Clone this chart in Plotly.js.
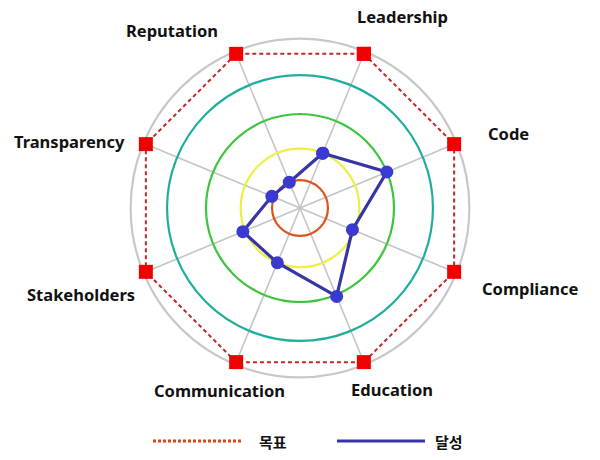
<!DOCTYPE html>
<html><head><meta charset="utf-8">
<script src="https://cdn.plot.ly/plotly-3.0.1.min.js"></script>
<style>html,body{margin:0;padding:0;background:#fff}#chart{width:600px;height:460px}</style>
</head><body><div id="chart"></div>
<script>
// ---- data ----
const categories = ['Leadership','Code','Compliance','Education','Communication','Stakeholders','Transparency','Reputation'];
const targetValues = [98.5,98.5,98.5,98.5,98.5,98.5,98.5,98.5];
const achievedValues = [35,55.5,33.5,56.5,35,36.5,18,16.5];
const seriesNames = ['목표','달성'];
const levelValues = [16.5,35,55.5,78.5];
const radialMax = 100;

// ---- styles / layout ----
const levelColors = ['#d9541e','#eeee44','#3ec43e','#1fae9c'];
const labelPos = {
  Leadership:[402,16], Code:[508,133], Compliance:[530,288], Education:[392,389],
  Communication:[220,390], Stakeholders:[81,294], Transparency:[69,141], Reputation:[172,31]
};
const W = 600, H = 460;
const domain = {x:[0.2177,0.7823], y:[0.1796,0.9161]};
const closeLoop = a => a.concat([a[0]]);

const angCat = {type:'category', categoryorder:'array', categoryarray:categories,
  rotation:67.5, direction:'clockwise', showticklabels:false, ticks:'', layer:'below traces'};
const radHidden = {range:[0,radialMax], showline:false, showticklabels:false, ticks:'', showgrid:false, layer:'below traces'};

const traces = [];
const layout = {
  width:W, height:H, margin:{l:0,r:0,t:0,b:0},
  paper_bgcolor:'#ffffff', showlegend:false,
  font:{family:'Noto Sans, Noto Sans CJK KR, sans-serif', color:'#111'},
  annotations:[], shapes:[]
};

// polar 1: spokes, outer ring, target series
layout.polar = {
  domain, bgcolor:'#ffffff', hole:0,
  angularaxis:Object.assign({}, angCat, {showgrid:true, gridcolor:'#c4c4c4', gridwidth:1.6,
    showline:true, linecolor:'#c8c8c8', linewidth:2.2}),
  radialaxis:radHidden
};
traces.push({
  type:'scatterpolar', subplot:'polar', name:seriesNames[0],
  theta:closeLoop(categories), r:closeLoop(targetValues),
  mode:'lines+markers', cliponaxis:false,
  line:{color:'#c0282a', width:2, dash:'4px,3px'},
  marker:{symbol:'square', size:14, color:'#f20000'},
  hoverinfo:'skip'
});

// polars 2..5: coloured level rings (radial gridlines)
levelValues.forEach((lv,i)=>{
  const key = 'polar' + (i+2);
  layout[key] = {
    domain, bgcolor:'rgba(0,0,0,0)', hole:0,
    angularaxis:{showgrid:false, showline:false, showticklabels:false, ticks:'', rotation:67.5, direction:'clockwise'},
    radialaxis:{range:[0,radialMax], tickvals:[lv], showgrid:true, gridcolor:levelColors[i], gridwidth:2.2,
      showline:false, showticklabels:false, ticks:''}
  };
  traces.push({type:'scatterpolar', subplot:key, r:[lv], theta:[0], mode:'lines',
    line:{color:'rgba(0,0,0,0)'}, hoverinfo:'skip'});
});

// polar 6: achieved series on top
layout.polar6 = {
  domain, bgcolor:'rgba(0,0,0,0)', hole:0,
  angularaxis:Object.assign({}, angCat, {showgrid:false, showline:false}),
  radialaxis:radHidden
};
traces.push({
  type:'scatterpolar', subplot:'polar6', name:seriesNames[1],
  theta:closeLoop(categories), r:closeLoop(achievedValues),
  mode:'lines+markers', cliponaxis:false,
  line:{color:'#3535a8', width:3.2},
  marker:{symbol:'circle', size:13, color:'#3a3ad0'},
  hoverinfo:'skip'
});

// category labels
categories.forEach(c=>{
  const p = labelPos[c];
  layout.annotations.push({text:c, x:p[0]/W, y:1-p[1]/H, xref:'paper', yref:'paper',
    xanchor:'center', yanchor:'middle', showarrow:false,
    font:{family:'Noto Sans, sans-serif', size:16.5, color:'#111', weight:'bold'}});
});

// legend (drawn)
const legY = 1 - 441/H;
layout.shapes.push({type:'line', xref:'paper', yref:'paper', x0:153/W, x1:241/W, y0:legY, y1:legY,
  line:{color:'#d4481c', width:3, dash:'3px,2px'}});
layout.shapes.push({type:'line', xref:'paper', yref:'paper', x0:337/W, x1:425/W, y0:legY, y1:legY,
  line:{color:'#3535a8', width:3}});
[[seriesNames[0],273],[seriesNames[1],449]].forEach(([t,x])=>{
  layout.annotations.push({text:t, x:x/W, y:legY, xref:'paper', yref:'paper',
    xanchor:'center', yanchor:'middle', showarrow:false,
    font:{family:'Noto Sans CJK KR, sans-serif', size:15, color:'#111', weight:'bold'}});
});

Plotly.newPlot('chart', traces, layout, {staticPlot:true, displayModeBar:false});
</script>
</body></html>
